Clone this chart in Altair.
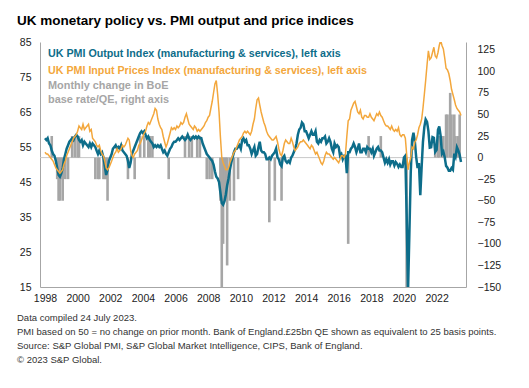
import altair as alt
import pandas as pd

# ---------------- data ----------------
START_YEAR = 1998
# UK PMI Output Index (composite), monthly Jan 1998 - Jul 2023
output_index = [
    57.5, 57.0, 57.5, 56.0, 55.5, 54.0, 53.0, 52.5, 51.0, 49.0, 47.0, 46.5,  # 1998
    47.5, 49.0, 51.5, 53.0, 54.5, 55.5, 56.5, 57.0, 57.5, 57.0, 58.0, 58.5,  # 1999
    58.0, 57.0, 56.5, 57.0, 55.5, 56.5, 56.0, 55.5, 55.0, 56.0, 55.0, 56.0,  # 2000
    55.5, 55.0, 54.0, 53.0, 54.0, 53.0, 53.5, 52.0, 49.5, 47.0, 48.5, 51.0,  # 2001
    52.0, 53.0, 54.5, 55.0, 55.5, 54.5, 55.0, 54.5, 55.5, 54.0, 53.5, 53.0,  # 2002
    52.5, 51.0, 49.0, 50.5, 53.0, 54.0, 55.0, 56.0, 57.0, 58.0, 59.0, 59.5,  # 2003
    59.0, 59.5, 58.5, 57.5, 58.0, 57.0, 56.5, 56.0, 55.0, 55.5, 55.0, 55.5,  # 2004
    55.0, 55.5, 54.5, 53.5, 54.0, 53.0, 52.5, 53.5, 54.5, 55.0, 56.0, 56.5,  # 2005
    56.5, 57.0, 57.5, 57.0, 57.5, 58.0, 57.5, 57.0, 57.5, 58.5, 57.5, 57.0,  # 2006
    57.5, 58.0, 57.5, 58.0, 57.5, 58.0, 57.5, 57.5, 56.0, 55.0, 54.0, 53.0,  # 2007
    52.5, 52.0, 51.5, 51.0, 50.0, 48.0, 46.5, 46.0, 45.0, 42.0, 39.0, 38.5,  # 2008
    39.5, 41.5, 44.0, 46.0, 48.5, 50.5, 52.0, 53.5, 54.5, 54.5, 55.0, 55.5,  # 2009
    54.5, 57.0, 57.5, 56.5, 57.0, 55.5, 55.5, 54.5, 53.0, 54.0, 55.0, 52.5,  # 2010
    53.0, 55.0, 56.5, 54.0, 53.5, 53.5, 53.0, 51.5, 51.5, 52.0, 51.5, 52.5,  # 2011
    53.0, 53.5, 54.5, 52.0, 51.5, 50.0, 49.5, 52.0, 52.5, 51.0, 50.5, 51.0,  # 2012
    50.5, 52.0, 52.5, 53.5, 54.5, 56.0, 58.5, 60.0, 60.5, 62.0, 61.5, 59.5,  # 2013
    59.5, 58.5, 57.5, 58.5, 59.5, 58.5, 58.5, 59.5, 56.5, 56.0, 57.0, 56.5,  # 2014
    57.5, 57.5, 58.0, 56.0, 56.5, 57.5, 56.5, 54.5, 53.5, 56.0, 55.0, 55.5,  # 2015
    55.0, 52.5, 53.0, 51.5, 52.5, 52.5, 47.5, 53.5, 53.5, 54.5, 55.0, 56.0,  # 2016
    55.0, 53.5, 54.5, 56.0, 53.5, 53.5, 54.5, 54.5, 53.5, 55.0, 54.5, 54.5,  # 2017
    53.5, 54.5, 52.5, 53.5, 54.5, 55.0, 54.0, 54.0, 53.5, 52.0, 50.5, 51.5,  # 2018
    50.5, 51.5, 50.0, 50.9, 50.9, 49.7, 50.7, 50.2, 49.3, 50.0, 49.3, 49.3,  # 2019
    52.0, 52.5, 36.0, 13.8, 30.0, 47.7, 57.0, 59.1, 56.5, 52.1, 49.0, 50.4,  # 2020
    41.2, 49.6, 56.4, 60.7, 62.9, 62.2, 59.6, 54.8, 54.9, 57.8, 57.6, 53.6,  # 2021
    54.2, 59.9, 60.9, 58.2, 53.1, 53.7, 52.1, 49.6, 49.1, 48.2, 48.2, 49.0,  # 2022
    48.5, 53.1, 52.2, 54.9, 54.0, 52.8, 50.7,                                # 2023
]
# UK PMI Input Prices Index (composite)
input_prices = [
    53.5, 53.0, 53.0, 52.5, 52.0, 51.5, 51.0, 50.0, 49.0, 48.5, 48.0, 47.5,  # 1998
    48.0, 48.5, 50.0, 51.0, 52.5, 53.5, 54.5, 55.5, 56.5, 57.5, 58.0, 58.5,  # 1999
    59.5, 61.0, 60.5, 60.0, 61.5, 60.0, 60.5, 61.0, 61.5, 59.5, 60.0, 57.5,  # 2000
    57.0, 56.5, 55.5, 55.0, 55.5, 54.0, 53.0, 52.5, 51.0, 49.0, 48.5, 49.0,  # 2001
    50.0, 51.0, 52.0, 53.0, 53.5, 54.5, 53.5, 54.0, 54.5, 55.5, 55.0, 55.5,  # 2002
    56.5, 57.5, 57.0, 54.0, 52.5, 52.0, 53.0, 53.5, 54.0, 55.5, 56.0, 57.0,  # 2003
    58.0, 59.0, 59.5, 61.0, 62.0, 61.5, 62.5, 63.5, 64.5, 66.0, 65.5, 63.0,  # 2004
    61.5, 60.5, 60.0, 58.0, 56.5, 55.0, 56.0, 57.5, 59.0, 60.5, 60.0, 60.5,  # 2005
    60.0, 61.0, 60.5, 61.0, 62.0, 61.5, 62.0, 63.5, 64.5, 63.0, 61.5, 61.0,  # 2006
    60.5, 60.0, 61.0, 60.5, 59.5, 60.0, 59.5, 60.0, 60.5, 61.0, 62.0, 62.5,  # 2007
    63.5, 64.0, 66.0, 68.0, 70.5, 73.0, 74.0, 70.0, 65.0, 58.0, 52.0, 50.5,  # 2008
    49.5, 48.5, 48.5, 49.0, 50.5, 51.5, 52.5, 53.5, 54.0, 55.0, 56.0, 57.0,  # 2009
    57.5, 58.0, 59.0, 59.5, 59.0, 59.5, 59.0, 58.5, 59.5, 61.5, 63.0, 66.0,  # 2010
    68.5, 69.0, 67.0, 65.0, 63.5, 62.0, 61.0, 59.5, 58.5, 58.0, 57.5, 57.0,  # 2011
    57.0, 57.5, 58.0, 56.5, 54.5, 53.0, 52.5, 54.0, 56.0, 57.0, 56.5, 56.0,  # 2012
    56.0, 57.5, 56.5, 55.0, 54.0, 54.5, 55.0, 56.0, 56.5, 56.5, 57.0, 56.5,  # 2013
    56.0, 55.5, 55.0, 54.5, 55.5, 55.0, 54.0, 53.0, 53.5, 52.5, 51.5, 50.5,  # 2014
    50.0, 51.0, 52.5, 53.5, 53.0, 53.0, 52.5, 52.0, 51.5, 52.0, 51.5, 51.0,  # 2015
    50.5, 51.5, 52.5, 52.5, 52.0, 53.0, 58.0, 62.5, 63.0, 65.5, 66.5, 67.5,  # 2016
    68.0, 66.5, 65.0, 64.5, 65.5, 63.5, 63.0, 64.0, 64.0, 63.5, 63.5, 64.5,  # 2017
    63.5, 63.0, 62.5, 63.5, 64.5, 64.0, 65.0, 64.0, 63.5, 62.5, 61.5, 61.0,  # 2018
    61.0, 60.5, 60.0, 61.0, 60.0, 59.5, 60.0, 59.5, 60.5, 58.5, 58.0, 58.5,  # 2019
    58.5, 57.5, 53.0, 48.5, 50.5, 52.0, 55.0, 54.5, 56.5, 57.0, 58.5, 60.5,  # 2020
    61.5, 63.0, 66.0, 70.0, 74.0, 78.5, 82.5, 80.0, 80.5, 82.0, 83.5, 81.0,  # 2021
    80.5, 82.0, 84.0, 85.5, 84.0, 83.0, 80.5, 77.5, 77.0, 76.0, 74.0, 71.5,  # 2022
    70.0, 68.5, 67.0, 66.0, 65.5, 65.0, 64.0,                                # 2023
]
# Monthly change in BoE base rate / QE (bp; £25bn QE = 25bp, easing negative)
boe_months = [
    "1998-06", "1998-10", "1998-11", "1998-12", "1999-01", "1999-02", "1999-04", "1999-06",
    "1999-09", "1999-11", "2000-01", "2000-02",
    "2001-02", "2001-04", "2001-05", "2001-08", "2001-09", "2001-10", "2001-11",
    "2003-02", "2003-07", "2003-11",
    "2004-02", "2004-05", "2004-06", "2004-08",
    "2005-08",
    "2006-08", "2006-11", "2007-01", "2007-05", "2007-07", "2007-12",
    "2008-02", "2008-04", "2008-10", "2008-11", "2008-12",
    "2009-01", "2009-02", "2009-03", "2009-05", "2009-08", "2009-11",
    "2011-10", "2012-02", "2012-07",
    "2016-08",
    "2017-11", "2018-08",
    "2020-03",
    "2021-12", "2022-02", "2022-03", "2022-05", "2022-06", "2022-08", "2022-09",
    "2022-11", "2022-12", "2023-02", "2023-03", "2023-05", "2023-06",
]
boe_change = [
    25, -25, -50, -50, -25, -50, -25, -25,
    25, 25, 25, 25,
    -25, -25, -25, -25, -25, -25, -50,
    -25, -25, 25,
    25, 25, 25, 25,
    -25,
    25, 25, 25, 25, 25, -25,
    -25, -25, -50, -150, -100,
    -50, -50, -125, -50, -50, -25,
    -75, -50, -50,
    -100,
    25, 25,
    -150,
    15, 25, 25, 25, 25, 50, 50,
    75, 50, 50, 25, 25, 50,
]

left_ticks = [15, 25, 35, 45, 55, 65, 75, 85]
right_ticks = [-150, -125, -100, -75, -50, -25, 0, 25, 50, 75, 100, 125]
year_labels = list(range(1998, 2023, 2))

title_text = "UK monetary policy vs. PMI output and price indices"
legend_output = "UK PMI Output Index (manufacturing & services), left axis"
legend_prices = "UK PMI Input Prices Index (manufacturing & services), left axis"
legend_boe = ["Monthly change in BoE", "base rate/QE, right axis"]
footnotes = [
    "Data compiled 24 July 2023.",
    "PMI based on 50 = no change on prior month. Bank of England.£25bn QE shown as equivalent to 25 basis points.",
    "Source: S&P Global PMI, S&P Global Market Intelligence, CIPS, Bank of England.",
    "\u00a9 2023 S&P Global.",
]

# ---------------- styling ----------------
TEAL = "#0d6d8a"
ORANGE = "#f3a73c"
GRAY = "#a6a6a6"
AXIS_GRAY = "#a6a6a6"
TEXT = "#333333"
FONT = "Liberation Sans"

months = pd.date_range(f"{START_YEAR}-01-01", periods=len(output_index), freq="MS")
df_lines = pd.DataFrame({
    "date": months.strftime("%Y-%m-%d"),
    "output": output_index,
    "prices": input_prices,
})
df_bars = pd.DataFrame({"date": [m + "-01" for m in boe_months], "bp": boe_change})

x_scale = alt.Scale(domain=[alt.DateTime(year=1998, month=1, date=1),
                            alt.DateTime(year=2023, month=7, date=1)])
x_axis = alt.Axis(
    values=[alt.DateTime(year=y, month=1, date=1) for y in year_labels],
    format="%Y", labelFlush=False, labelOverlap=False, ticks=False,
    domainColor=AXIS_GRAY, labelPadding=6, grid=False, title=None,
)
x_enc = alt.X("date:T", scale=x_scale, axis=x_axis)

left_scale = alt.Scale(domain=[15, 85], nice=False, zero=False)
right_scale = alt.Scale(domain=[-150, 134], nice=False)

left_axis = alt.Axis(orient="left", values=left_ticks, ticks=False,
                     labelOverlap=False, labelFlush=False, domainColor=AXIS_GRAY,
                     labelPadding=9, grid=False, title=None)
right_axis = alt.Axis(orient="right", values=right_ticks, ticks=False,
                      labelOverlap=False, labelFlush=False, domainColor=AXIS_GRAY,
                      labelPadding=11, grid=False, title=None)

rule0 = alt.Chart(pd.DataFrame({"z": [0]})).mark_rule(
    color="#c8c8c8", strokeWidth=1
).encode(y=alt.Y("z:Q", scale=right_scale, axis=right_axis))

bars = alt.Chart(df_bars).mark_bar(color=GRAY, size=2.6, clip=True).encode(
    x=x_enc,
    y=alt.Y("bp:Q", scale=right_scale, axis=right_axis),
)
bar_layer = alt.layer(rule0, bars)

teal = alt.Chart(df_lines).mark_line(color=TEAL, strokeWidth=2.5, clip=True).encode(
    x=x_enc,
    y=alt.Y("output:Q", scale=left_scale, axis=left_axis),
)
orange = alt.Chart(df_lines).mark_line(color=ORANGE, strokeWidth=1.5, clip=True).encode(
    x=x_enc,
    y=alt.Y("prices:Q", scale=left_scale, axis=left_axis),
)
line_layer = alt.layer(teal, orange)


def text_layer(lines, x, y, color, size, weight="normal", lh=None):
    kw = dict(text=lines, align="left", baseline="alphabetic", font=FONT,
              fontSize=size, fontWeight=weight, color=color)
    if lh is not None:
        kw["lineHeight"] = lh
    return alt.Chart(pd.DataFrame({"d": [0]})).mark_text(**kw).encode(
        x=alt.value(x), y=alt.value(y))


texts = [
    text_layer(title_text, -23, -17, "#000000", 13.5, "bold"),
    text_layer(legend_output, 8, 15, TEAL, 10.7, "bold"),
    text_layer(legend_prices, 8, 32, ORANGE, 10.7, "bold"),
    text_layer(legend_boe, 8, 47, GRAY, 10.9, "bold", 13.5),
    text_layer(footnotes, -23, 279, TEXT, 9.5, "normal", 14),
]

chart = alt.layer(bar_layer, line_layer, *texts).resolve_scale(
    y="independent"
).properties(
    width=426, height=245,
    padding={"left": 32, "top": 34, "right": 55, "bottom": 85},
    autosize=alt.AutoSizeParams(type="none"),
).configure_view(stroke=None).configure_axis(
    labelFont=FONT, labelFontSize=10.5, labelColor="#222222", labelOverlap=False,
)

chart.save("out.html", embed_options={"renderer": "svg", "actions": False})
